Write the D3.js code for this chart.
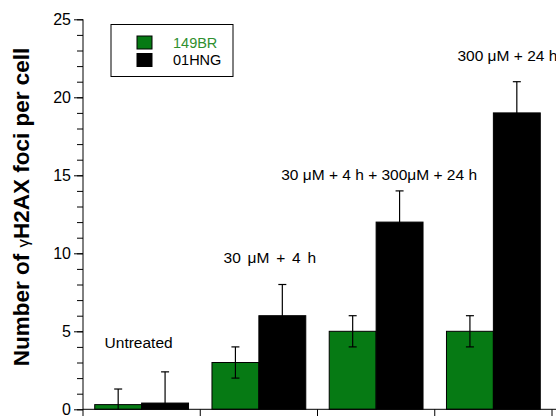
<!DOCTYPE html>
<html>
<head>
<meta charset="utf-8">
<script src="https://cdn.jsdelivr.net/npm/d3@7"></script>
<style>
  html, body { margin: 0; padding: 0; background: #fff; }
  svg { display: block; font-family: "Liberation Sans", Arial, sans-serif; }
</style>
</head>
<body>
<div id="chart"></div>
<script>
// data
const categories = ["Untreated", "30 \u03bcM + 4 h", "30 \u03bcM + 4 h + 300\u03bcM + 24 h", "300 \u03bcM + 24 h"];
const seriesNames = ["149BR", "01HNG"];
const foci149BR = [0.3, 3, 5, 5];
const err149BR = [1, 1, 1, 1];
const foci01HNG = [0.4, 6, 12, 19];
const err01HNG = [2, 2, 2, 2];
const yMajorTicks = [0, 5, 10, 15, 20, 25];
const labelLevels = [3.9, 9.4, 14.7, 22.3]; // where the condition labels sit, in foci units

const width = 556, height = 416;
const margin = { top: 19.3, left: 83, bottom: 409.3, right: 552 };
const colours = { "149BR": "#067a14", "01HNG": "#000000" };
const labelDx = [-3, 11, 3, 14];
const labelSpacing = [0, 2.5, 0, 0];

const svg = d3.select("#chart")
  .append("svg")
  .attr("width", width)
  .attr("height", height);

const y = d3.scaleLinear().domain([0, 25]).range([margin.bottom, margin.top]);
const x0 = d3.scaleBand().domain(categories).range([margin.left, margin.right]).padding(0);
const x1 = d3.scaleBand().domain(seriesNames).range([0, x0.bandwidth()])
  .paddingInner(0).paddingOuter(0.25);

const rows = categories.map((c, i) => ({
  category: c,
  bars: [
    { series: "149BR", value: foci149BR[i], err: err149BR[i] },
    { series: "01HNG", value: foci01HNG[i], err: err01HNG[i] },
  ],
}));

// bars
const groups = svg.append("g")
  .selectAll("g")
  .data(rows)
  .join("g")
  .attr("transform", (d) => `translate(${x0(d.category)},0)`);

groups.selectAll("rect")
  .data((d) => d.bars)
  .join("rect")
  .attr("x", (d) => x1(d.series))
  .attr("y", (d) => y(d.value))
  .attr("width", x1.bandwidth())
  .attr("height", (d) => y(0) - y(d.value))
  .attr("fill", (d) => colours[d.series])
  .attr("stroke", "#000")
  .attr("stroke-width", 1);

// error bars
const errs = groups.selectAll("g.err")
  .data((d) => d.bars)
  .join("g")
  .attr("class", "err")
  .attr("transform", (d) => `translate(${x1(d.series) + x1.bandwidth() / 2},0)`)
  .attr("stroke", "#000")
  .attr("stroke-width", 1.2);

errs.append("line")
  .attr("y1", (d) => y(Math.max(0, d.value - d.err)))
  .attr("y2", (d) => y(d.value + d.err));
errs.append("line")
  .attr("x1", -4).attr("x2", 4)
  .attr("y1", (d) => y(d.value + d.err))
  .attr("y2", (d) => y(d.value + d.err));
errs.filter((d) => d.value - d.err > 0)
  .append("line")
  .attr("x1", -4).attr("x2", 4)
  .attr("y1", (d) => y(d.value - d.err))
  .attr("y2", (d) => y(d.value - d.err));

// y axis: minor ticks every unit, majors every 5
svg.append("g")
  .attr("transform", `translate(${margin.left},0)`)
  .call(d3.axisLeft(y).tickValues(d3.range(0, 26, 1)).tickSize(6).tickFormat(""))
  .call((g) => g.select(".domain").attr("d", `M0,${margin.top}V${height}`));

svg.append("g")
  .attr("transform", `translate(${margin.left},0)`)
  .call(d3.axisLeft(y).tickValues(yMajorTicks).tickSize(9).tickPadding(3))
  .call((g) => g.select(".domain").remove())
  .call((g) => g.selectAll("text")
    .attr("font-size", 16)
    .attr("font-family", "Liberation Sans, Arial, sans-serif")
    .attr("fill", "#000"));

// x axis baseline and group separators
svg.append("line")
  .attr("x1", margin.left).attr("x2", width)
  .attr("y1", y(0)).attr("y2", y(0))
  .attr("stroke", "#000");

svg.append("g")
  .selectAll("line")
  .data(categories)
  .join("line")
  .attr("x1", (d) => x0(d) + x0.step())
  .attr("x2", (d) => x0(d) + x0.step())
  .attr("y1", y(0))
  .attr("y2", y(0) + 9)
  .attr("stroke", "#000");

// condition labels
svg.append("g")
  .selectAll("text")
  .data(categories)
  .join("text")
  .attr("x", (d, i) => x0(d) + x0.bandwidth() / 2 + labelDx[i])
  .attr("y", (d, i) => y(labelLevels[i]))
  .attr("text-anchor", "middle")
  .attr("font-size", 15.5)
  .attr("word-spacing", (d, i) => labelSpacing[i])
  .attr("fill", "#000")
  .text((d) => d);

// y axis title
const title = svg.append("text")
  .attr("transform", `translate(29,207) rotate(-90)`)
  .attr("text-anchor", "middle")
  .attr("font-size", 22.5)
  .attr("font-weight", "bold")
  .attr("fill", "#000");
title.append("tspan").text("Number of ");
title.append("tspan").attr("font-size", 17).attr("font-weight", "normal").text("\u03b3");
title.append("tspan").text("H2AX foci per cell");

// legend
const legend = svg.append("g");
legend.append("rect")
  .attr("x", 111).attr("y", 24.5)
  .attr("width", 122).attr("height", 52)
  .attr("fill", "none")
  .attr("stroke", "#000");

const items = legend.selectAll("g")
  .data(seriesNames)
  .join("g")
  .attr("transform", (d, i) => `translate(137,${36 + i * 17.5})`);

items.append("rect")
  .attr("width", 15).attr("height", 13)
  .attr("fill", (d) => colours[d])
  .attr("stroke", "#000");

items.append("text")
  .attr("x", 36)
  .attr("y", 11.5)
  .attr("font-size", 14.5)
  .attr("fill", (d) => (d === "149BR" ? "#2f8f2f" : "#000"))
  .text((d) => d);
</script>
</body>
</html>
